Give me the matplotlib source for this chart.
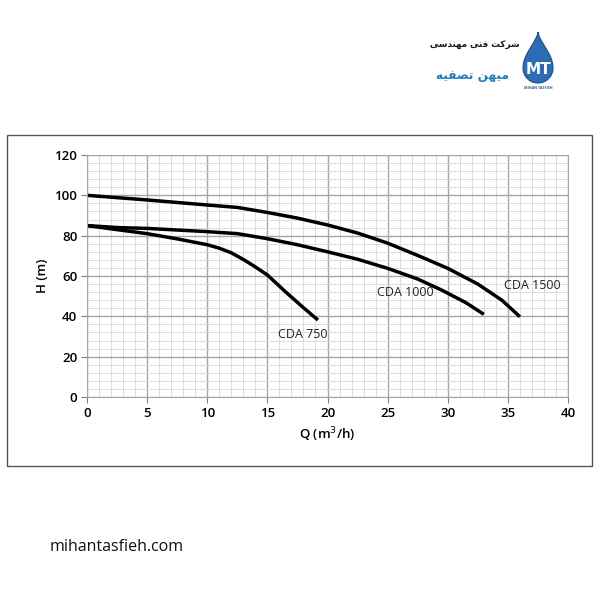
import numpy as np
import matplotlib.pyplot as plt
from matplotlib.patches import Rectangle, PathPatch
from matplotlib.path import Path
from matplotlib.ticker import MultipleLocator

plt.rcParams['font.family'] = ['Open Sans', 'DejaVu Sans']

# pump curves (Q in m3/h, H in m)
q_750 = [0, 2.6, 5, 7.6, 10, 11, 12, 13, 14, 15, 16.5, 17.9, 19.2]
h_750 = [85, 82.9, 81, 78.3, 75.5, 73.8, 71.5, 68.2, 64.5, 60.5, 52.2, 44.8, 38.2]

q_1000 = [0, 2.6, 5, 10, 12.5, 15, 17.5, 20, 22.5, 25, 27.5, 29.5, 31.5, 33.0]
h_1000 = [85, 84, 83.6, 82, 81, 78.5, 75.5, 72, 68.3, 63.8, 58.5, 53, 46.8, 41]

q_1500 = [0, 5, 10, 12.5, 15, 17.5, 20, 22.5, 25, 27.5, 30, 32.5, 34.5, 36.0]
h_1500 = [100, 97.7, 95.2, 94, 91.5, 88.7, 85.3, 81.3, 76.3, 70.2, 63.8, 56, 48, 39.8]

labels = ['CDA 750', 'CDA 1000', 'CDA 1500']
label_pos = [(17.9, 31.2), (26.5, 51.6), (37.0, 55.5)]

fig = plt.figure(figsize=(6, 6), dpi=100)
ax = fig.add_axes([0.145, 0.3383, 0.8017, 0.4034])

for q, h in [(q_750, h_750), (q_1000, h_1000), (q_1500, h_1500)]:
    ax.plot(q, h, color='black', lw=2.5, solid_capstyle='butt',
            solid_joinstyle='round')

for txt, (x, y) in zip(labels, label_pos):
    ax.text(x, y, txt, ha='center', va='center', fontsize=9, color='#222222')

ax.set_xlim(0, 40)
ax.set_ylim(0, 120)
ax.xaxis.set_major_locator(MultipleLocator(5))
ax.xaxis.set_minor_locator(MultipleLocator(1))
ax.yaxis.set_major_locator(MultipleLocator(20))
ax.yaxis.set_minor_locator(MultipleLocator(4))
ax.grid(which='major', color='#a6a6a6', lw=1.0)
ax.grid(which='minor', color='#dcdcdc', lw=0.7)
ax.set_axisbelow(True)
for s in ax.spines.values():
    s.set_color('#a6a6a6')
ax.tick_params(which='minor', length=0)
ax.tick_params(which='major', length=4, color='#808080', labelsize=9.5, pad=3)
for lab in ax.get_xticklabels() + ax.get_yticklabels():
    lab.set_fontweight('semibold')
ax.set_xlabel('Q (m$^3$/h)', fontsize=9.5, fontweight='semibold', labelpad=4)
ax.set_ylabel('H (m)', fontsize=9.5, fontweight='semibold', labelpad=4)

# outer frame
fig.patches.append(Rectangle((7 / 600, 1 - 466 / 600), 585 / 600, 331 / 600,
                             transform=fig.transFigure, fill=False,
                             edgecolor='#555555', lw=1.0))

# logo texts (presentation forms, visual order)
fa_1 = '\ufbfd\ufeb3\ufeaa\ufee8\ufeec\ufee3 \ufbfd\ufee8\ufed3 \ufe96\ufb90\ufeae\ufeb7'
fa_2 = '\ufeea\ufbff\ufed4\ufebc\ufe97 \ufee6\ufeec\ufbff\ufee3'
fig.text(475 / 600, 1 - 45 / 600, fa_1, family=['DejaVu Sans'], fontsize=6.3,
         fontweight='bold', ha='center', va='center', color='#1a1a1a')
fig.text(472 / 600, 1 - 75 / 600, fa_2, family=['DejaVu Sans'], fontsize=8.7,
         fontweight='bold', ha='center', va='center', color='#1f7fc0')

# water drop
cx, cy, r, top = 538, 68, 15, 32
verts = [(cx, top)]
for a in np.linspace(0, 1, 30)[1:]:
    verts.append((cx + r * np.sin(a * np.pi / 2) ** 1.5, top + (cy - top) * a))
for b in np.linspace(0, np.pi, 60)[1:]:
    verts.append((cx + r * np.cos(b), cy + r * np.sin(b)))
for a in np.linspace(1, 0, 30)[1:]:
    verts.append((cx - r * np.sin(a * np.pi / 2) ** 1.5, top + (cy - top) * a))
verts = [(x / 600, 1 - y / 600) for x, y in verts]
drop = PathPatch(Path(verts + [verts[0]], closed=True), transform=fig.transFigure,
                 facecolor='#2a6db5', edgecolor='#1d4f8f', lw=0.8)
fig.patches.append(drop)
fig.text(538 / 600, 1 - 70 / 600, 'MT', fontsize=11, fontweight='bold',
         color='white', ha='center', va='center', family=['DejaVu Sans'])
fig.text(538 / 600, 1 - 88 / 600, 'MIHAN TASFIEH', fontsize=2.6, fontweight='bold',
         color='#1f5fa8', ha='center', va='center')

fig.text(50 / 600, 1 - 547 / 600, 'mihantasfieh.com', fontsize=11.5,
         color='#111111', ha='left', va='center')

fig.savefig('out.png', dpi=100, facecolor='white')
